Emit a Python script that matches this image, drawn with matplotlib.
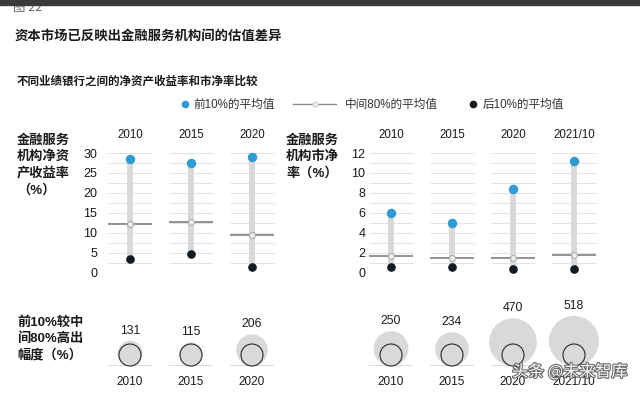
import matplotlib
matplotlib.use('Agg')
import matplotlib.pyplot as plt
from matplotlib.lines import Line2D
from matplotlib.patches import Rectangle
import matplotlib.patheffects as pe
import numpy as np

# ---------------- data ----------------
roe_years = ['2010', '2015', '2020']
roe_top = [28.4, 27.5, 29.0]
roe_mid = [12.3, 12.8, 9.5]
roe_bottom = [3.4, 4.6, 1.5]
roe_premium = [131, 115, 206]
roe_ticks = [0, 5, 10, 15, 20, 25, 30]

pb_years = ['2010', '2015', '2020', '2021/10']
pb_top = [6.0, 5.0, 8.4, 11.2]
pb_mid = [1.7, 1.45, 1.45, 1.75]
pb_bottom = [0.55, 0.55, 0.4, 0.4]
pb_premium = [250, 234, 470, 518]
pb_ticks = [0, 2, 4, 6, 8, 10, 12]

title = '资本市场已反映出金融服务机构间的估值差异'
subtitle = '不同业绩银行之间的净资产收益率和市净率比较'
fig_no = '图 22'
legend_labels = ['前10%的平均值', '中间80%的平均值', '后10%的平均值']
roe_label = '金融服务\n机构净资\n产收益率\n（%）'
pb_label = '金融服务\n机构市净\n率（%）'
premium_label = '前10%较中\n间80%高出\n幅度（%）'
watermark = '头条 @未来智库'

# ---------------- style ----------------
W, H = 640, 393
DPI = 100
CJK = ['Liberation Sans', 'Noto Sans CJK SC']
BLUE = '#2f9bd3'
DARK = '#141a22'
GRID = '#e3e3e3'
BAR = '#d9d9d9'
MID = '#808080'
TXT = '#1a1a1a'
STEP = 61      # pixel distance between columns
HALF = 0.36    # half width of column gridlines (data units)
R0 = 11        # pixel radius of the 100% reference circle

fig = plt.figure(figsize=(W / DPI, H / DPI), dpi=DPI)
fig.patch.set_facecolor('white')


def px_axes(l, t, r, b):
    return fig.add_axes([l / W, 1 - b / H, (r - l) / W, (b - t) / H])


def fx(px):
    return px / W


def fy(py):
    return 1 - py / H


def geometry(x0, left_px, n):
    xl = -(x0 - left_px) / STEP
    right_px = x0 + (n - 0.5) * STEP
    return xl, n - 0.5, right_px


def dot_panel(x0, left_px, years, top, mid, bottom, ticks, minor):
    n = len(years)
    xl, xr, right_px = geometry(x0, left_px, n)
    ax = px_axes(left_px, 153, right_px, 272.7)
    ymax = ticks[-1]
    ax.set_xlim(xl, xr)
    ax.set_ylim(0, ymax)
    x = np.arange(n)
    grid = np.arange(0, ymax + minor / 2, minor)
    for i in x:
        ax.hlines(grid, i - HALF, i + HALF, color=GRID, lw=0.8, zorder=1)
    ax.vlines(x, bottom, top, color=BAR, lw=4.3, zorder=2)
    ax.hlines(mid, x - HALF, x + HALF, color=MID, lw=1.2, zorder=3)
    ax.plot(x, mid, 'o', ms=4.3, mfc='#ececec', mec='#a8a8a8', mew=0.7,
            ls='none', zorder=4)
    ax.plot(x, top, 'o', ms=5.8, color=BLUE, ls='none', zorder=5, clip_on=False)
    ax.plot(x, bottom, 'o', ms=5.2, color=DARK, ls='none', zorder=5, clip_on=False)
    for s in ax.spines.values():
        s.set_visible(False)
    ax.set_yticks(ticks)
    ax.set_yticklabels([str(t) for t in ticks], fontsize=9,
                       family='Liberation Sans', color=TXT)
    ax.tick_params(axis='y', length=0, pad=2)
    ax.xaxis.tick_top()
    ax.set_xticks(x)
    ax.set_xticklabels(years, fontsize=8.3, family='Liberation Sans', color=TXT)
    ax.tick_params(axis='x', length=0, pad=9)
    ax.patch.set_alpha(0)
    return ax


def bubble_panel(x0, left_px, years, vals):
    n = len(years)
    xl, xr, right_px = geometry(x0, left_px, n)
    ax = px_axes(left_px, 290, right_px, 366)
    ax.set_xlim(xl, xr)
    ax.set_ylim(0, 76)
    x = np.arange(n)
    ax.hlines(np.zeros(n), x - HALF, x + HALF, color='#d4d4d4', lw=1.2, zorder=1)
    r = R0 * np.sqrt(np.array(vals) / 100.0)
    ax.scatter(x, r, s=(2 * r * 72 / DPI) ** 2, color=BAR, lw=0, zorder=2,
               clip_on=False)
    ax.scatter(x, np.full(n, R0), s=(2 * R0 * 72 / DPI) ** 2, facecolor='none',
               edgecolor='#2a2a2a', lw=0.8, zorder=3, clip_on=False)
    for xi, ri, v in zip(x, r, vals):
        ax.text(xi, 2 * ri + 10, str(v), ha='center', va='center', fontsize=8.8,
                family='Liberation Sans', color=TXT)
    for s in ax.spines.values():
        s.set_visible(False)
    ax.set_yticks([])
    ax.set_xticks(x)
    ax.set_xticklabels(years, fontsize=8.5, family='Liberation Sans', color=TXT)
    ax.tick_params(axis='x', length=0, pad=7)
    ax.patch.set_alpha(0)
    return ax


# ---------------- header ----------------
fig.text(fx(13), fy(8), fig_no, fontsize=9, color='#666666',
         family=['Noto Sans CJK SC', 'DejaVu Sans'], ha='left', va='center')
fig.patches.append(Rectangle((0, fy(4.5)), 1, 1 - fy(4.5), transform=fig.transFigure,
                             color='#3a3a3a', zorder=10))
fig.text(fx(15), fy(36), title, fontsize=9.6, fontweight='bold', color=TXT,
         family=['Noto Sans CJK SC', 'DejaVu Sans'], ha='left', va='center')
fig.text(fx(17), fy(81), subtitle, fontsize=8.3, fontweight='bold', color=TXT,
         family=['Noto Sans CJK SC', 'DejaVu Sans'], ha='left', va='center')

# ---------------- legend ----------------
fs_leg = 8.4
em = fs_leg * DPI / 72
leg_handles = [
    Line2D([0], [0], marker='o', ls='none', ms=4.5, color=BLUE),
    Line2D([0], [0], color='#8a8a8a', lw=1, marker='o', ms=3.8,
           mfc='#f0f0f0', mec='#c0c0c0', mew=0.6),
    Line2D([0], [0], marker='o', ls='none', ms=4.5, color=DARK),
]
# (left pixel of handle box, handle length px, gap to text px)
leg_specs = [(181, 8, 4), (293, 43, 9), (469, 8, 6)]
for h, lab, (ax_px, hl, tp) in zip(leg_handles, legend_labels, leg_specs):
    lg = fig.legend(handles=[h], labels=[lab], loc='center left',
                    bbox_to_anchor=(fx(ax_px), fy(105)), frameon=False,
                    handlelength=hl / em, handletextpad=tp / em, borderpad=0,
                    borderaxespad=0, prop=dict(family=CJK, size=fs_leg))
    for t in lg.get_texts():
        t.set_color('#333333')

# ---------------- panels ----------------
dot_panel(130, 100, roe_years, roe_top, roe_mid, roe_bottom, roe_ticks, 2.5)
dot_panel(391, 368, pb_years, pb_top, pb_mid, pb_bottom, pb_ticks, 1)
bubble_panel(130, 100, roe_years, roe_premium)
bubble_panel(391, 368, pb_years, pb_premium)

lab_kw = dict(fontsize=9.5, fontweight='bold', color=TXT, family=CJK,
              ha='left', va='top', linespacing=1.4)
fig.text(fx(17), fy(134), roe_label, **lab_kw)
fig.text(fx(286), fy(134), pb_label, **lab_kw)
fig.text(fx(17), fy(316), premium_label, **lab_kw)

# ---------------- watermark ----------------
fig.text(fx(512), fy(372), watermark, fontsize=11.6, color='white',
         family=['Noto Sans CJK SC', 'DejaVu Sans'], ha='left', va='center',
         path_effects=[pe.withStroke(linewidth=1.6, foreground='#6a6a6a')],
         zorder=20)

fig.savefig('out.png', dpi=DPI, facecolor='white')
